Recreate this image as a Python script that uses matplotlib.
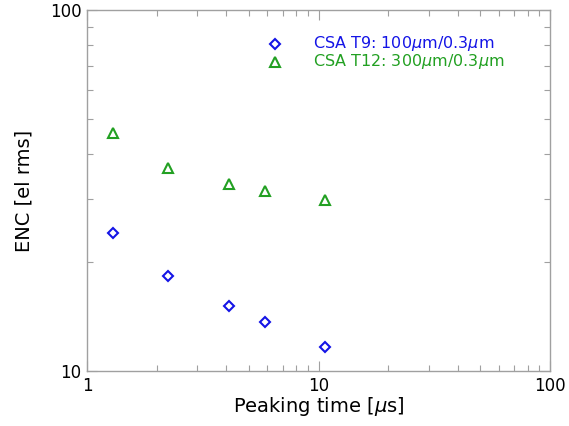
import matplotlib
matplotlib.use("Agg")
import matplotlib.pyplot as plt
from matplotlib.ticker import LogLocator, NullFormatter, FixedLocator, FixedFormatter

plt.rcParams['font.family'] = ['DejaVu Sans']
plt.rcParams['mathtext.fontset'] = 'dejavusans'

peaking_t9 = [1.30, 2.24, 4.09, 5.88, 10.66]
enc_t9 = [24.1, 18.3, 15.1, 13.65, 11.65]
peaking_t12 = [1.30, 2.24, 4.09, 5.88, 10.66]
enc_t12 = [45.7, 36.5, 32.9, 31.6, 29.85]
label_t9 = "CSA T9: 100$\\mu$m/0.3$\\mu$m"
label_t12 = "CSA T12: 300$\\mu$m/0.3$\\mu$m"
xticks = [1, 10, 100]
xticklabels = ["1", "10", "100"]
yticks = [10, 100]
yticklabels = ["10", "100"]

blue = "#1414e6"
green = "#22a022"
gray = "#a0a0a0"

fig = plt.figure(figsize=(5.69, 4.26), dpi=100)
ax = fig.add_axes([87/569, 55/426, 463/569, 361/426])
ax.set_xscale('log')
ax.set_yscale('log')
ax.set_xlim(1, 100)
ax.set_ylim(10, 100)

ax.plot(peaking_t9, enc_t9, linestyle='none', marker='D', markersize=5.5,
        markerfacecolor='none', markeredgecolor=blue, markeredgewidth=1.5)
ax.plot(peaking_t12, enc_t12, linestyle='none', marker='^', markersize=7.5,
        markerfacecolor='none', markeredgecolor=green, markeredgewidth=1.5)

for s in ax.spines.values():
    s.set_color(gray)
    s.set_linewidth(1.0)

ax.xaxis.set_major_locator(FixedLocator(xticks))
ax.xaxis.set_major_formatter(FixedFormatter(xticklabels))
ax.yaxis.set_major_locator(FixedLocator(yticks))
ax.yaxis.set_major_formatter(FixedFormatter(yticklabels))
ax.xaxis.set_minor_locator(LogLocator(base=10, subs=range(2, 10)))
ax.yaxis.set_minor_locator(LogLocator(base=10, subs=range(2, 10)))
ax.xaxis.set_minor_formatter(NullFormatter())
ax.yaxis.set_minor_formatter(NullFormatter())
ax.tick_params(which='both', direction='in', top=True, right=True, color=gray, width=0.8)
ax.tick_params(which='major', length=7, labelsize=12, pad=4)
ax.tick_params(which='minor', length=4)

ax.set_xlabel("Peaking time [$\\mu$s]", fontsize=14, labelpad=0)
ax.set_ylabel("ENC [el rms]", fontsize=14, labelpad=12)

# legend drawn as markers + colored text
ax.plot([0.406], [0.907], transform=ax.transAxes, linestyle='none', marker='D', markersize=5.5,
        markerfacecolor='none', markeredgecolor=blue, markeredgewidth=1.5, clip_on=False)
ax.plot([0.406], [0.856], transform=ax.transAxes, linestyle='none', marker='^', markersize=7.5,
        markerfacecolor='none', markeredgecolor=green, markeredgewidth=1.5, clip_on=False)
ax.text(0.488, 0.907, label_t9, transform=ax.transAxes, color=blue, fontsize=11.5, va='center', ha='left')
ax.text(0.488, 0.856, label_t12, transform=ax.transAxes, color=green, fontsize=11.5, va='center', ha='left')

fig.savefig("out.png", dpi=100)
